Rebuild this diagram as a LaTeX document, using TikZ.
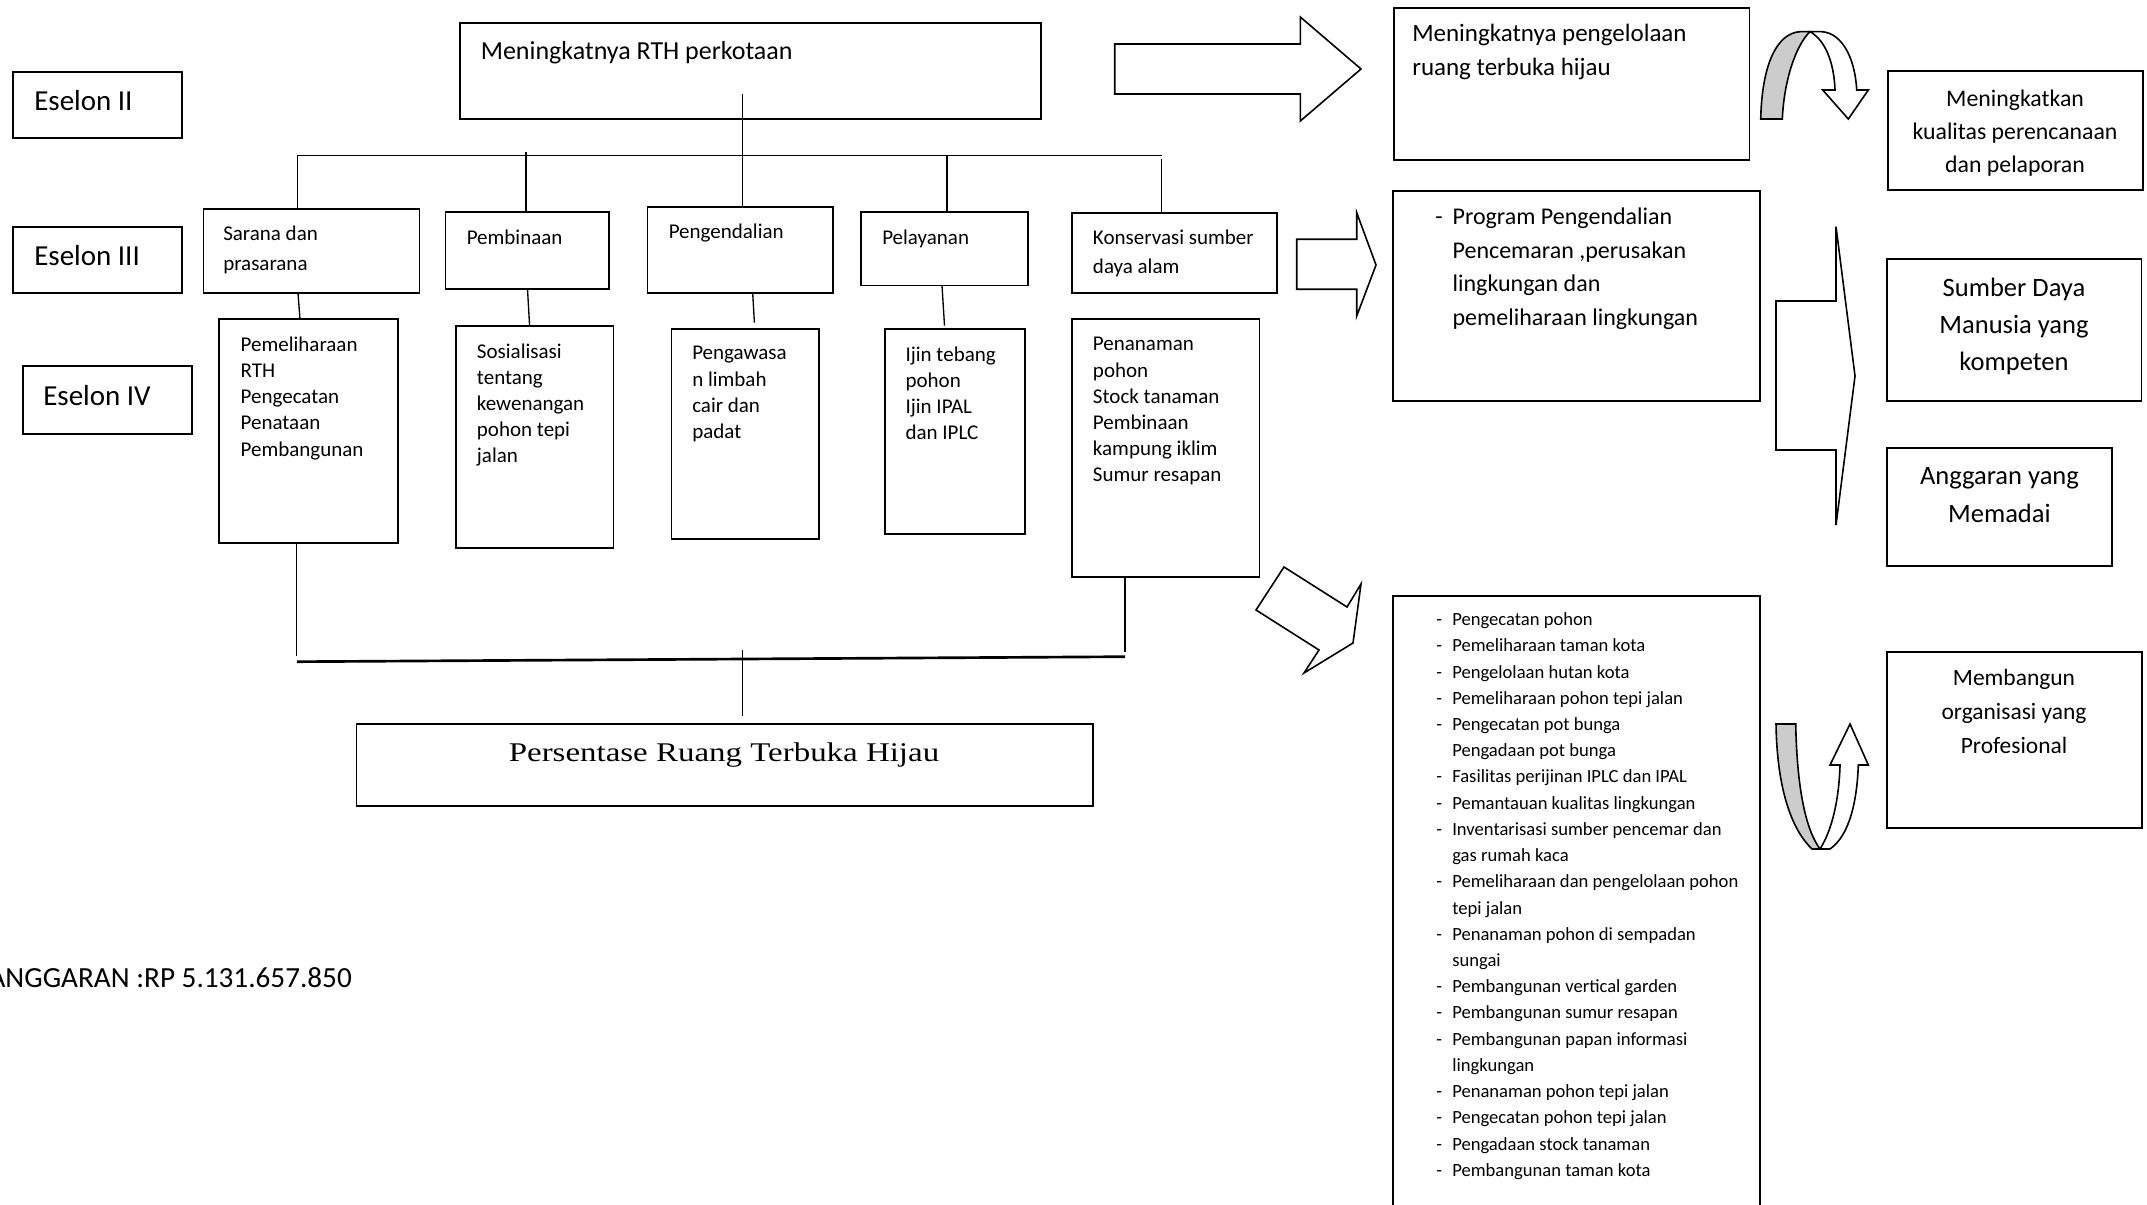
\documentclass[tikz,border=0pt]{standalone}
\usepackage{fontspec}
\setmainfont{Carlito}
\newfontfamily\serifc[FakeStretch=1.22]{Liberation Serif}
\usetikzlibrary{fit}
\newcommand\Fst{\rule{0pt}{0.8em}}
\newcommand\Dsh[1]{\makebox[#1][l]{-}}
\tikzset{
  box/.style={draw, line width=1.4pt, inner sep=0pt},
  conn/.style={line width=1.0pt},
  blk/.style={draw, line width=1.2pt, line join=miter, fill=white},
  txt/.style={inner sep=0pt, anchor=north west, align=left},
  ctxt/.style={inner sep=0pt, anchor=north, align=center},
  fEs/.style={font=\fontsize{21.75pt}{26pt}\selectfont},
  fTi/.style={font=\fontsize{19.5pt}{24pt}\selectfont},
  fIII/.style={font=\fontsize{15.75pt}{22.5pt}\selectfont},
  fIV/.style={font=\fontsize{15.75pt}{19.6pt}\selectfont},
  fR/.style={font=\fontsize{18.75pt}{25.5pt}\selectfont},
  fP/.style={font=\fontsize{18pt}{25.4pt}\selectfont},
  fK/.style={font=\fontsize{17.85pt}{25.1pt}\selectfont},
  fS/.style={font=\fontsize{19.9pt}{28pt}\selectfont},
  fM/.style={font=\fontsize{17.6pt}{25.5pt}\selectfont},
  fL/.style={font=\fontsize{13.95pt}{19.67pt}\selectfont},
}
\begin{document}
\begin{tikzpicture}[x=0.75pt, y=-0.75pt]
\useasboundingbox (0,0) rectangle (2147,1205);
\clip (0,0) rectangle (2147,1205);

% ---------- Eselon labels ----------
\node[box, fit={(13,72) (182,138)}] (e2) {};
\node[fEs, inner sep=0pt, anchor=base west] (e2t) at (34,111) {Eselon II};
\node[box, fit={(13,227) (182,293)}] (e3) {};
\node[fEs, inner sep=0pt, anchor=base west] (e3t) at (34,266) {Eselon III};
\node[box, fit={(23,366) (192,434)}] (e4) {};
\node[fEs, inner sep=0pt, anchor=base west] (e4t) at (43,405.3) {Eselon IV};

% ---------- top box ----------
\node[box, fit={(460,23) (1041,119)}] (top) {};
\node[fTi, inner sep=0pt, anchor=base west] (topt) at (480.5,59.3) {Meningkatnya RTH perkotaan};

% ---------- Eselon III boxes ----------
\node[box, fit={(203.5,209) (419.5,293)}] (sar) {};
\node[txt, fIII] (sart) at (223,223.8) {\Fst Sarana dan\\prasarana};
\node[box, fit={(445.5,212.3) (609,289)}] (pmb) {};
\node[txt, fIII] (pmbt) at (466.5,227.2) {\Fst Pembinaan};
\node[box, fit={(647.5,206.7) (833.4,293.3)}] (pgd) {};
\node[txt, fIII] (pgdt) at (668.5,221.8) {\Fst Pengendalian};
\node[box, fit={(861,212.3) (1028,285.5)}] (ply) {};
\node[txt, fIII] (plyt) at (882,227.2) {\Fst Pelayanan};
\node[box, fit={(1072,212.7) (1277.3,293.3)}] (kon) {};
\node[txt, fIII, font=\fontsize{15.75pt}{21.8pt}\selectfont] (kont) at (1092.7,227.8) {\Fst Konservasi sumber\\daya alam};

% ---------- Eselon IV boxes ----------
\node[box, fit={(219,319.3) (398,542.7)}] (pem) {};
\node[txt, fIV] (pemt) at (240.4,334.5) {\Fst Pemeliharaan\\RTH\\Pengecatan\\Penataan\\Pembangunan};
\node[box, fit={(456,326) (613.5,548.3)}] (sos) {};
\node[txt, fIV] (sost) at (476.7,341.2) {\Fst Sosialisasi\\tentang\\kewenangan\\pohon tepi\\jalan};
\node[box, fit={(671.5,329) (819,539.3)}] (paw) {};
\node[txt, fIV] (pawt) at (692,342.8) {\Fst Pengawasa\\n limbah\\cair dan\\padat};
\node[box, fit={(885.4,329.3) (1024.7,534.3)}] (ijn) {};
\node[txt, fIV] (ijnt) at (905.3,344.5) {\Fst Ijin tebang\\pohon\\Ijin IPAL\\dan IPLC};
\node[box, fit={(1072,319.3) (1259.5,577)}] (pen) {};
\node[txt, fIV] (pent) at (1092.7,333.8) {\Fst Penanaman\\pohon\\Stock tanaman\\Pembinaan\\kampung iklim\\Sumur resapan};

% ---------- bottom box ----------
\node[box, fit={(356.5,724.3) (1092.7,805.7)}] (pers) {};
\node[inner sep=0pt, anchor=base, font=\serifc\fontsize{20.25pt}{24pt}\selectfont] (perst) at (724,761.5) {Persentase Ruang Terbuka Hijau};

\node[inner sep=0pt, anchor=base east, font=\fontsize{21.9pt}{26pt}\selectfont] (ang) at (352,987) {ANGGARAN :RP 5.131.657.850};

% ---------- tree connectors ----------
\coordinate (j0) at (742.2,94);
\draw[conn] (j0) -- (j0 |- pgd.north);
\coordinate (bL) at (297.4,155.3);
\coordinate (bR) at (1161.7,155.3);
\draw[conn] (bL) -- (bR);
\draw[conn] (bL) -- (bL |- sar.north);
\coordinate (pbTop) at (526.1,152);
\draw[conn] (pbTop) -- (pbTop |- pmb.north);
\coordinate (plTop) at (947,155.3);
\draw[conn] (plTop) -- (plTop |- ply.north);
\coordinate (kTop) at (1161.7,159);
\draw[conn] (kTop) -- (kTop |- kon.north);

\coordinate (a1) at (298,293); \coordinate (a2) at (300,319.3);
\draw[conn] (a1) -- (a2);
\coordinate (c1) at (527.5,289); \coordinate (c2) at (529.6,326);
\draw[conn] (c1) -- (c2);
\coordinate (d1) at (752.7,293.3); \coordinate (d2) at (754.4,322.7);
\draw[conn] (d1) -- (d2);
\coordinate (f1) at (942,285.5); \coordinate (f2) at (944.5,325.7);
\draw[conn] (f1) -- (f2);

\coordinate (b1) at (296.8,656);
\draw[conn] (b1 |- pem.south) -- (b1);
\coordinate (b2) at (1125,651.7);
\draw[conn] (b2 |- pen.south) -- (b2);
\coordinate (h1) at (296.8,661.7); \coordinate (h2) at (1125,656.7);
\draw[line width=2.0pt] (h1) -- (h2);
\coordinate (v1) at (742.8,650); \coordinate (v2) at (742.8,716);
\draw[conn] (v1) -- (v2);

% ---------- right side boxes ----------
\node[box, fit={(1393.8,8.3) (1749.5,160)}] (rth) {};
\node[txt, fR] (rtht) at (1412,21.7) {\Fst Meningkatnya pengelolaan\\ruang terbuka hijau};
\node[box, fit={(1888,71) (2143,190)}] (kual) {};
\node[ctxt, fK] (kualt) at (2015,86.7) {\Fst Meningkatkan\\kualitas perencanaan\\dan pelaporan};
\node[box, fit={(1393.4,191) (1760,400.7)}] (prog) {};
\node[txt, fP] (progt) at (1435,204.7) {\Fst\Dsh{13pt}Program Pengendalian\\\hspace*{13pt}Pencemaran ,perusakan\\\hspace*{13pt}lingkungan dan\\\hspace*{13pt}pemeliharaan lingkungan};
\node[box, fit={(1886.6,259) (2141.5,400.7)}] (sdm) {};
\node[ctxt, fS] (sdmt) at (2014,274.7) {\Fst Sumber Daya\\Manusia yang\\kompeten};
\node[box, fit={(1886.6,447.7) (2112.2,566)}] (angg) {};
\node[ctxt, fS] (anggt) at (1999.4,463.2) {\Fst Anggaran yang\\Memadai};
\node[box, fit={(1393,596.2) (1760.3,1240)}] (lst) {};
\node[txt, fL] (lstt) at (1436,610.4) {\Fst\Dsh{12pt}Pengecatan pohon\\
\Dsh{12pt}Pemeliharaan taman kota\\
\Dsh{12pt}Pengelolaan hutan kota\\
\Dsh{12pt}Pemeliharaan pohon tepi jalan\\
\Dsh{12pt}Pengecatan pot bunga\\
\hspace*{12pt}Pengadaan pot bunga\\
\Dsh{12pt}Fasilitas perijinan IPLC dan IPAL\\
\Dsh{12pt}Pemantauan kualitas lingkungan\\
\Dsh{12pt}Inventarisasi sumber pencemar dan\\
\hspace*{12pt}gas rumah kaca\\
\Dsh{12pt}Pemeliharaan dan pengelolaan pohon\\
\hspace*{12pt}tepi jalan\\
\Dsh{12pt}Penanaman pohon di sempadan\\
\hspace*{12pt}sungai\\
\Dsh{12pt}Pembangunan vertical garden\\
\Dsh{12pt}Pembangunan sumur resapan\\
\Dsh{12pt}Pembangunan papan informasi\\
\hspace*{12pt}lingkungan\\
\Dsh{12pt}Penanaman pohon tepi jalan\\
\Dsh{12pt}Pengecatan pohon tepi jalan\\
\Dsh{12pt}Pengadaan stock tanaman\\
\Dsh{12pt}Pembangunan taman kota};
\node[box, fit={(1887,652) (2142,828)}] (mbg) {};
\node[ctxt, fM] (mbgt) at (2014,666.2) {\Fst Membangun\\organisasi yang\\Profesional};

% ---------- block arrows ----------
\draw[blk] (1114.7,44) -- (1300.3,44) -- (1300.3,17) -- (1361,69) -- (1300.3,121) -- (1300.3,94) -- (1114.7,94) -- cycle;
\draw[blk] (1296.7,239.3) -- (1356.7,239.3) -- (1356.7,212.7) -- (1376,265) -- (1356.7,316) -- (1356.7,289.3) -- (1296.7,289.3) -- cycle;
\draw[blk] (1836,226.7) -- (1855,376) -- (1836,525) -- (1836,450) -- (1776,450) -- (1776,301) -- (1836,301) -- cycle;
\draw[blk] (1284,567) -- (1347,607) -- (1361,584) -- (1353,643) -- (1304,673) -- (1319,650) -- (1256,610) -- cycle;

% top curved arrow
\draw[blk, fill=gray!40] (1760.7,119) .. controls (1762,62) and (1778,33) .. (1800,31.7) -- (1810,31.7) .. controls (1796,45) and (1784,80) .. (1782.3,119) -- cycle;
\draw[blk] (1810,31.7) -- (1821.7,31.7) .. controls (1842,33) and (1855,58) .. (1856.7,90) -- (1868.3,90) -- (1848.3,119) -- (1822.7,90) -- (1835,90) .. controls (1834,62) and (1825,40) .. (1810,31.7) -- cycle;

% bottom curved arrow
\draw[blk, fill=gray!40] (1776,724) -- (1795.7,724) .. controls (1797,790) and (1806,830) .. (1820,849) -- (1812,849) .. controls (1792,830) and (1777,790) .. (1776,724) -- cycle;
\draw[blk] (1820,849) -- (1830,849) .. controls (1850,835) and (1857,800) .. (1858.3,765) -- (1868.3,765) -- (1850,724) -- (1830,765) -- (1840,765) .. controls (1839,800) and (1832,830) .. (1820,849) -- cycle;
\end{tikzpicture}
\end{document}
